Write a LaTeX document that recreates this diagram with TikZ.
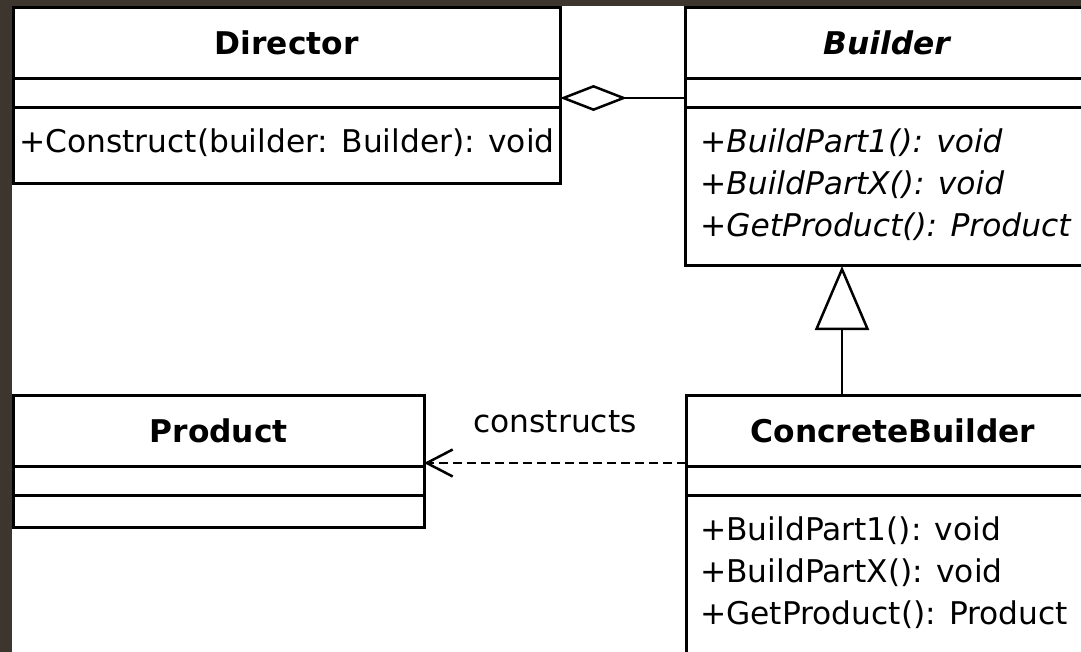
\documentclass[tikz,border=0pt]{standalone}
\usepackage{fontspec}
\setmainfont{DejaVu Sans}[ItalicFont={DejaVu Sans Oblique},BoldFont={DejaVu Sans Bold},BoldItalicFont={DejaVu Sans Bold Oblique}]
\usetikzlibrary{arrows.meta,calc}
\definecolor{framebg}{RGB}{61,54,46}
\newcommand{\umlfont}{\fontsize{31.3}{42}\selectfont}
\tikzset{
  classbox/.style={draw, line width=3pt, fill=white, inner sep=0pt, outer sep=0pt, anchor=north west},
  classname/.style={font=\umlfont\bfseries, inner sep=0pt},
  member/.style={font=\umlfont, inner sep=0pt, anchor=base west},
  abstractop/.style={member, font=\umlfont\itshape},
  compartment/.style={line width=3pt},
  relation/.style={line width=2.5pt}
}

\begin{document}
\begin{tikzpicture}[x=1pt,y=-1pt]
                \useasboundingbox (0,0) rectangle (1081,652);
                \clip (0,0) rectangle (1081,652);
                %window frame behind the diagram
                \fill[framebg] (0,0) rectangle (1081,652);
                \fill[white] (12,6) rectangle (1081,652);
                %the four class boxes
                \node[classbox, minimum width=546.5pt, minimum height=176.5pt] (director) at (13.5,7.5) {};
                \node[classbox, minimum width=403pt, minimum height=258.5pt] (builder) at (685,7.5) {};
                \node[classbox, minimum width=410.5pt, minimum height=132pt] (product) at (13.5,395) {};
                \node[classbox, minimum width=414pt, minimum height=330pt] (concrete) at (686,395.5) {};
                %compartment lines
                \draw[compartment] ($(director.north west)+(0,71)$) -- ($(director.north east)+(0,71)$);
                \draw[compartment] ($(director.north west)+(0,100)$) -- ($(director.north east)+(0,100)$);
                \draw[compartment] ($(builder.north west)+(0,71)$) -- ($(builder.north east)+(0,71)$);
                \draw[compartment] ($(builder.north west)+(0,100)$) -- ($(builder.north east)+(0,100)$);
                \draw[compartment] ($(product.north west)+(0,71)$) -- ($(product.north east)+(0,71)$);
                \draw[compartment] ($(product.north west)+(0,100)$) -- ($(product.north east)+(0,100)$);
                \draw[compartment] ($(concrete.north west)+(0,71)$) -- ($(concrete.north east)+(0,71)$);
                \draw[compartment] ($(concrete.north west)+(0,100)$) -- ($(concrete.north east)+(0,100)$);
                %class names
                \node[classname] (directorname) at ($(director.north)+(0,35.5)$) {Director};
                \node[classname, font=\umlfont\bfseries\itshape] (buildername) at ($(builder.north)+(0,35.5)$) {Builder};
                \node[classname] (productname) at ($(product.north)+(0,35.5)$) {Product};
                \node[classname] (concretename) at ($(concrete.north)+(0,35.5)$) {ConcreteBuilder};
                %operations
                \node[member] (construct) at ($(director.north west)+(5.5,145)$) {+Construct(builder: Builder): void};
                \node[abstractop] (bpart1) at ($(builder.north west)+(15,145)$) {+BuildPart1(): void};
                \node[abstractop] (bpartx) at ($(builder.north west)+(15,187)$) {+BuildPartX(): void};
                \node[abstractop] (bgetproduct) at ($(builder.north west)+(15,229)$) {+GetProduct(): Product};
                \node[member] (cpart1) at ($(concrete.north west)+(14,145)$) {+BuildPart1(): void};
                \node[member] (cpartx) at ($(concrete.north west)+(14,187)$) {+BuildPartX(): void};
                \node[member] (cgetproduct) at ($(concrete.north west)+(14,229)$) {+GetProduct(): Product};
                %relations between the classes
                \coordinate (hasa) at (0,98);
                \coordinate (isa) at (842,0);
                \coordinate (uses) at (0,463);
                \draw[relation, {Diamond[open,length=67pt,width=26pt]}-] (director.east |- hasa) -- (builder.west |- hasa);
                \draw[relation, -{Triangle[open,length=64pt,width=54pt]}] (concrete.north -| isa) -- (builder.south -| isa);
                \draw[relation, dash pattern=on 9pt off 5pt, -{Straight Barb[length=26pt,width=27pt]}] (concrete.west |- uses) -- (product.east |- uses)
                    node[midway, anchor=base, yshift=31pt, font=\umlfont, inner sep=0pt] (constructs) {constructs};
\end{tikzpicture}
\end{document}
